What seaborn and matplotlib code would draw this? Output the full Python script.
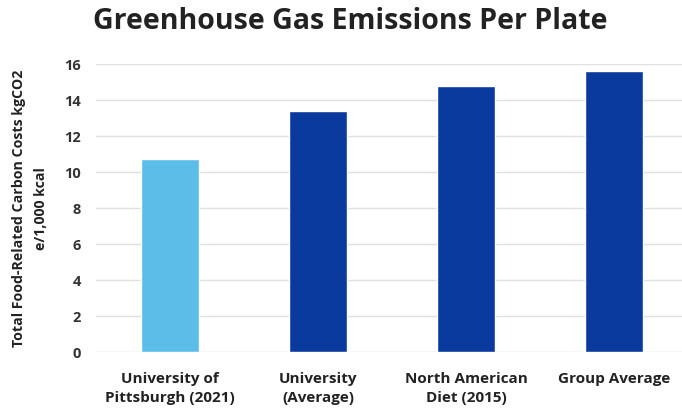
import matplotlib
matplotlib.use("Agg")
import matplotlib.pyplot as plt
import seaborn as sns
import pandas as pd

categories = ["University of\nPittsburgh (2021)", "University\n(Average)",
              "North American\nDiet (2015)", "Group Average"]
emissions = [10.7, 13.4, 14.8, 15.6]
bar_colors = ["#5bbde8", "#0b3a9e", "#0b3a9e", "#0b3a9e"]
y_ticks = [0, 2, 4, 6, 8, 10, 12, 14, 16]

sns.set_theme(style="white")
plt.rcParams["font.family"] = ["Open Sans", "DejaVu Sans"]

df = pd.DataFrame({"source": categories, "value": emissions})

fig = plt.figure(figsize=(6.82, 4.08), dpi=100)
ax = fig.add_axes([0.141, 0.137, 0.859, 0.706])

sns.barplot(data=df, x="source", y="value", hue="source", palette=bar_colors,
            legend=False, width=0.39, saturation=1, ax=ax)

ax.set_ylim(0, 16)
ax.set_xlim(-0.5, 3.46)
ax.set_yticks(y_ticks)
ax.set_yticklabels([str(t) for t in y_ticks], fontsize=10.5, fontweight="bold", color="#333333")
ax.tick_params(axis="y", length=0, pad=11)
ax.tick_params(axis="x", length=0, pad=14)
for lbl in ax.get_xticklabels():
    lbl.set_fontsize(11)
    lbl.set_fontweight("bold")
    lbl.set_color("#222222")
    lbl.set_linespacing(1.5)

ax.yaxis.grid(True, color="#e0e0e0", linewidth=1)
ax.set_axisbelow(True)
for s in ax.spines.values():
    s.set_visible(False)

ax.set_xlabel("")
ax.set_ylabel("Total Food-Related Carbon Costs kgCO2\ne/1,000 kcal", fontsize=10.2,
              fontweight="bold", color="#222222", linespacing=1.65)
ax.yaxis.set_label_coords(-0.083, 0.5)

fig.text(0.513, 0.947, "Greenhouse Gas Emissions Per Plate", ha="center", va="center",
         fontsize=20.5, fontweight="bold", color="#222222")

fig.savefig("out.png", dpi=100)
